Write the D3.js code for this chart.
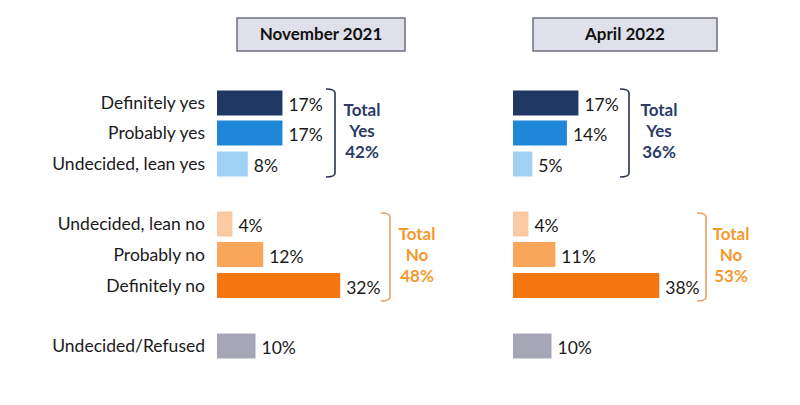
<!DOCTYPE html>
<html><head><meta charset="utf-8">
<script src="https://cdn.jsdelivr.net/npm/d3@7"></script>
<style>body{margin:0;background:#fff}svg{display:block}</style>
</head><body>
<svg id="c" width="800" height="405"></svg>
<script>
const categories = ["Definitely yes","Probably yes","Undecided, lean yes","Undecided, lean no","Probably no","Definitely no","Undecided/Refused"];
const periods = ["November 2021","April 2022"];
const nov2021 = [17,17,8,4,12,32,10];
const apr2022 = [17,14,5,4,11,38,10];
const totalsYes = [42,36];
const totalsNo = [48,53];
const colors = ["#1f3864","#1f87d8","#9fd1f5","#fbcaa2","#f9a55a","#f57711","#a6a6b6"];

const svg = d3.select("#c");
const font = "Lato, sans-serif";
const rowCenters = [103,133,164,224,254.5,285.5,346];
const y = d3.scaleOrdinal().domain(categories).range(rowCenters);
const barH = 25;
const panels = [
  {x0:217, vals:nov2021, box:[237,18,168,33], yesBr:335, yesTx:362, noBr:390, noTx:417},
  {x0:513, vals:apr2022, box:[533,18,184,33], yesBr:629, yesTx:659, noBr:706, noTx:731}
];
const x = d3.scaleLinear().domain([0,10]).range([0,38.5]);

svg.append("g").selectAll("text").data(categories).join("text")
  .attr("x",205).attr("y",d=>y(d)).attr("dy","0.35em")
  .attr("text-anchor","end").attr("font-family",font).attr("font-size",17.5)
  .attr("fill","#1a1a1a").text(d=>d);

panels.forEach((p,pi)=>{
  const g = svg.append("g");
  g.append("rect").attr("x",p.box[0]).attr("y",p.box[1]).attr("width",p.box[2]).attr("height",p.box[3])
    .attr("fill","#dfe0ea").attr("stroke","#6f7080").attr("stroke-width",1.5);
  g.append("text").attr("x",p.box[0]+p.box[2]/2).attr("y",p.box[1]+p.box[3]/2).attr("dy","0.35em")
    .attr("text-anchor","middle").attr("font-family",font).attr("font-weight","bold").attr("font-size",17)
    .attr("fill","#111").text(periods[pi]);
  g.selectAll("rect.bar").data(p.vals).join("rect").attr("class","bar")
    .attr("x",p.x0).attr("y",(d,i)=>rowCenters[i]-barH/2)
    .attr("width",d=>x(d)).attr("height",barH).attr("fill",(d,i)=>colors[i]);
  g.selectAll("text.val").data(p.vals).join("text").attr("class","val")
    .attr("x",d=>p.x0+x(d)+6).attr("y",(d,i)=>rowCenters[i]+2).attr("dy","0.35em")
    .attr("font-family",font).attr("font-size",17.5).attr("fill","#1a1a1a").text(d=>d+"%");
  const br = (bx, y1, y2, col)=>{
    g.append("path").attr("d",`M${bx-9},${y1} Q${bx},${y1} ${bx},${y1+4} L${bx},${y2-4} Q${bx},${y2} ${bx-9},${y2}`)
      .attr("fill","none").attr("stroke",col).attr("stroke-width",1.6);
  };
  br(p.yesBr, 89, 177, "#2a3450");
  br(p.noBr, 213, 301, "#e8a060");
  const tt = (tx, ys, lines, col)=>{
    g.append("text").attr("text-anchor","middle").attr("font-family",font).attr("font-weight","bold")
      .attr("font-size",17).attr("fill",col)
      .selectAll("tspan").data(lines).join("tspan").attr("x",tx).attr("y",(d,i)=>ys+i*21).text(d=>d);
  };
  tt(p.yesTx, 116, ["Total","Yes",totalsYes[pi]+"%"], "#2c3b67");
  tt(p.noTx, 240, ["Total","No",totalsNo[pi]+"%"], "#f5992f");
});
</script>
</body></html>
